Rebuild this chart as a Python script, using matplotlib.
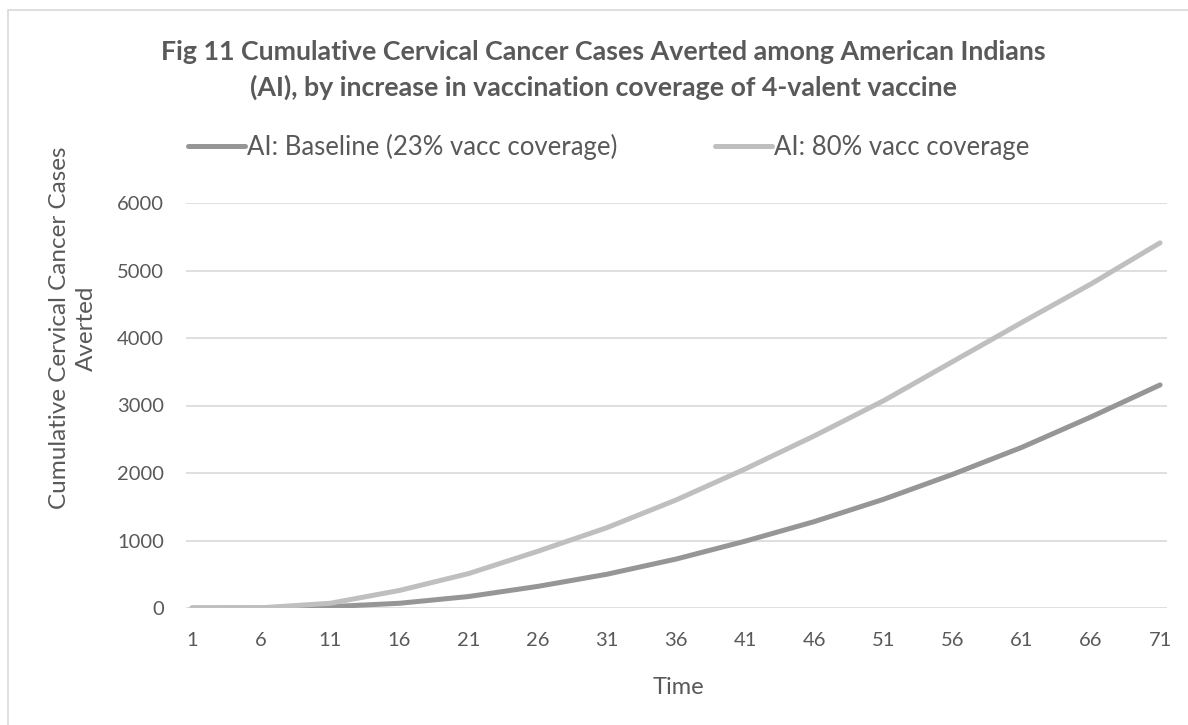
import matplotlib
matplotlib.use("Agg")
from matplotlib import pyplot as plt
from matplotlib.patches import Rectangle

# values, every 5th time step
time = [1, 6, 11, 16, 21, 26, 31, 36, 41, 46, 51, 56, 61, 66, 71]
baseline = [0, 1, 20, 70, 170, 320, 500, 725, 990, 1280, 1610, 1980, 2380, 2830, 3305]
coverage80 = [0, 3, 70, 260, 510, 840, 1190, 1600, 2060, 2550, 3070, 3650, 4230, 4800, 5410]
xticks = list(range(1, 72, 5))

txt = "#595959"
plt.rcParams["font.family"] = ["Lato", "DejaVu Sans"]

fig = plt.figure(figsize=(11.88, 7.25), dpi=100)
W, H = 1188, 725
ax = fig.add_axes([186 / W, 1 - 608 / H, (1167 - 186) / W, (608 - 203) / H])

# chart border (light grey, clipped at right/bottom like the source)
fig.patches.append(Rectangle((8 / W, -0.1), 1.2, 1 - 10 / H + 0.1, transform=fig.transFigure,
                             fill=False, edgecolor="#D9D9D9", linewidth=1.2))

ax.plot(time, baseline, color="#969696", linewidth=3.6, solid_capstyle="round",
        label="AI: Baseline (23% vacc coverage)")
ax.plot(time, coverage80, color="#BFBFBF", linewidth=3.6, solid_capstyle="round",
        label="AI: 80% vacc coverage")

ax.set_xlim(0.566, 71.5)
ax.set_ylim(0, 6000)
ax.set_xticks(xticks)
ax.set_yticks(range(0, 6001, 1000))
ax.grid(axis="y", color="#D9D9D9", linewidth=1.2)
ax.set_axisbelow(True)
for s in ax.spines.values():
    s.set_visible(False)
ax.tick_params(length=0, labelsize=14.5, labelcolor=txt)
ax.tick_params(axis="y", pad=16)
ax.tick_params(axis="x", pad=17)

fig.text(678 / W, 1 - 687 / H, "Time", ha="center", va="center", fontsize=17, color=txt)
fig.text(73 / W, 1 - 328 / H, "Cumulative Cervical Cancer Cases\nAverted", ha="center", va="center",
         rotation=90, fontsize=17.5, color=txt, linespacing=1.4, multialignment="center")

fig.text(603 / W, 1 - 52 / H, "Fig 11 Cumulative Cervical Cancer Cases Averted among American Indians",
         ha="center", va="center", fontsize=19.3, fontweight="bold", color=txt)
fig.text(603 / W, 1 - 87 / H, "(AI), by increase in vaccination coverage of 4-valent vaccine",
         ha="center", va="center", fontsize=19.3, fontweight="bold", color=txt)

leg = fig.legend(loc="center", bbox_to_anchor=(609 / W, 1 - 147 / H), ncol=2, frameon=False,
                 fontsize=18.5, handlelength=2.2, handletextpad=0.1, columnspacing=3.8,
                 labelcolor=txt)

fig.savefig("out.png", dpi=100, facecolor="white")
